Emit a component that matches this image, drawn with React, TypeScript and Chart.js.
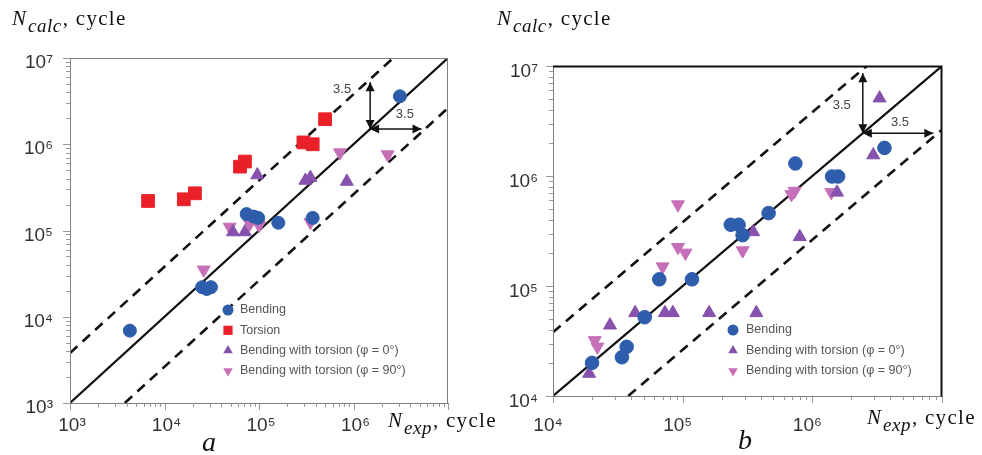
import React, { useEffect, useRef } from 'react';
import { Chart, registerables } from 'chart.js';

Chart.register(...registerables);

// ---------------- Panel a data: [N_exp, N_calc] ----------------
const aBending = [
  [4.3e3, 6.9e3], [2.5e4, 2.2e4], [2.8e4, 2.1e4], [3.1e4, 2.2e4],
  [7.4e4, 1.55e5], [8.8e4, 1.45e5], [9.8e4, 1.4e5], [1.6e5, 1.23e5], [3.7e5, 1.4e5], [3.1e6, 3.6e6],
];
const aTorsion = [
  [6.7e3, 2.2e5], [1.6e4, 2.3e5], [2.1e4, 2.7e5], [6.3e4, 5.5e5], [7.1e4, 6.3e5],
  [2.95e5, 1.05e6], [3.7e5, 1.0e6], [5.0e5, 1.95e6],
];
const aBendTorsion0 = [
  [5.3e4, 9.6e4], [7.1e4, 9.6e4], [9.6e4, 4.4e5], [3.1e5, 3.8e5], [3.5e5, 4.1e5], [8.5e5, 3.7e5],
];
const aBendTorsion90 = [
  [2.6e4, 3.5e4], [4.9e4, 1.1e5], [8.0e4, 1.2e5], [1.0e5, 1.15e5], [3.5e5, 1.25e5], [7.2e5, 8.0e5], [2.3e6, 7.6e5],
];

// ---------------- Panel b data: [N_exp, N_calc] ----------------
const bBending = [
  [2.0e4, 2.0e4], [3.4e4, 2.25e4], [3.7e4, 2.8e4], [5.1e4, 5.2e4], [6.6e4, 1.15e5], [1.18e5, 1.15e5],
  [2.35e5, 3.6e5], [2.7e5, 3.6e5], [2.9e5, 2.9e5], [4.6e5, 4.6e5], [7.4e5, 1.3e6],
  [1.42e6, 9.9e5], [1.58e6, 9.9e5], [3.6e6, 1.8e6],
];
const bBendTorsion0 = [
  [1.9e4, 1.6e4], [2.75e4, 4.4e4], [4.3e4, 5.7e4], [7.3e4, 5.7e4], [8.4e4, 5.7e4], [1.6e5, 5.7e4],
  [3.7e5, 5.7e4], [3.5e5, 3.1e5], [8.0e5, 2.8e5], [1.55e6, 7.1e5], [2.95e6, 1.55e6], [3.3e6, 5.1e6],
];
const bBendTorsion90 = [
  [2.1e4, 3.2e4], [2.2e4, 2.8e4], [7.0e4, 1.5e5], [9.2e4, 5.5e5], [9.2e4, 2.25e5], [1.05e5, 2.0e5],
  [2.9e5, 2.1e5], [6.9e5, 6.8e5], [7.3e5, 7.3e5], [1.4e6, 7.1e5],
];

// ---------------- Axes / reference lines ----------------
const aRange = [1e3, 1e7];
const bRange = [1e4, 1e7];
const aTickExps = [3, 4, 5, 6, 7];
const bTickExps = [4, 5, 6, 7];
const aXLabelExps = [3, 4, 5, 6];
const bXLabelExps = [4, 5, 6];
const bandFactor = 3.8; // dashed scatter band
const arrowFactor = 3.5;
const arrowLabel = '3.5';
const aArrowAnchor = 1.5e6;
const bArrowAnchor = 2.45e6;

const labelBending = 'Bending';
const labelTorsion = 'Torsion';
const labelBT0 = 'Bending with torsion (φ = 0°)';
const labelBT90 = 'Bending with torsion (φ = 90°)';

const BLUE = '#2d5dab';
const RED = '#ea2029';
const PURPLE = '#8652ad';
const PINK = '#c66fb8';

const SUP = '⁰¹²³⁴⁵⁶⁷⁸⁹';
const pow10Label = (e: number) => '10' + String(e).split('').map((d) => SUP[+d]).join('');

const sans = '"Liberation Sans", Arial, sans-serif';
const serif = '"Liberation Serif", "Times New Roman", serif';

type SeriesDef = { label: string; data: number[][]; color: string; style: string; rotation: number; radius: number };

function drawMarker(ctx: CanvasRenderingContext2D, style: string, rotation: number, x: number, y: number, r: number, color: string) {
  ctx.save();
  ctx.fillStyle = color;
  ctx.beginPath();
  if (style === 'circle') {
    ctx.arc(x, y, r, 0, Math.PI * 2);
  } else if (style === 'rect') {
    const s = r * Math.SQRT1_2;
    ctx.rect(x - s, y - s, 2 * s, 2 * s);
  } else {
    const dir = rotation === 180 ? -1 : 1;
    ctx.moveTo(x, y - dir * r);
    ctx.lineTo(x + r * 0.866, y + dir * r * 0.5);
    ctx.lineTo(x - r * 0.866, y + dir * r * 0.5);
    ctx.closePath();
  }
  ctx.fill();
  ctx.restore();
}

function doubleArrow(ctx: CanvasRenderingContext2D, x1: number, y1: number, x2: number, y2: number) {
  const L = 9, W = 4.5;
  const ang = Math.atan2(y2 - y1, x2 - x1);
  ctx.beginPath();
  ctx.moveTo(x1, y1);
  ctx.lineTo(x2, y2);
  ctx.stroke();
  const head = (x: number, y: number, a: number) => {
    ctx.beginPath();
    ctx.moveTo(x, y);
    ctx.lineTo(x - L * Math.cos(a) + W * Math.sin(a), y - L * Math.sin(a) - W * Math.cos(a));
    ctx.lineTo(x - L * Math.cos(a) - W * Math.sin(a), y - L * Math.sin(a) + W * Math.cos(a));
    ctx.closePath();
    ctx.fill();
  };
  head(x2, y2, ang);
  head(x1, y1, ang + Math.PI);
}

const decoPlugin = {
  id: 'deco',
  afterDatasetsDraw(chart: any, _args: any, o: any) {
    const { ctx, chartArea: a } = chart;
    const xs = chart.scales.x;
    const ys = chart.scales.y;
    ctx.save();
    // ticks
    ctx.strokeStyle = o.tickColor;
    ctx.lineWidth = 1;
    const e0 = Math.round(Math.log10(o.range[0]));
    const e1 = Math.round(Math.log10(o.range[1]));
    const vals: { v: number; major: boolean }[] = [];
    for (let e = e0; e < e1; e++) for (let m = 1; m <= 9; m++) vals.push({ v: m * Math.pow(10, e), major: m === 1 });
    vals.push({ v: Math.pow(10, e1), major: true });
    for (const t of vals) {
      const px = Math.round(xs.getPixelForValue(t.v)) + 0.5;
      const len = t.major ? 7 : 4;
      ctx.beginPath();
      ctx.moveTo(px, a.bottom);
      ctx.lineTo(px, a.bottom + len);
      ctx.stroke();
      const py = Math.round(ys.getPixelForValue(t.v)) + 0.5;
      ctx.beginPath();
      ctx.moveTo(a.left - len, py);
      ctx.lineTo(a.left, py);
      ctx.stroke();
    }
    // frame
    ctx.strokeStyle = o.axisColor;
    ctx.lineWidth = 1;
    ctx.beginPath();
    ctx.moveTo(a.left + 0.5, a.top);
    ctx.lineTo(a.left + 0.5, a.bottom + 0.5);
    ctx.lineTo(a.right, a.bottom + 0.5);
    ctx.stroke();
    ctx.strokeStyle = o.boxColor;
    ctx.lineWidth = o.boxWidth;
    ctx.beginPath();
    ctx.moveTo(a.left, a.top + 0.5);
    ctx.lineTo(a.right - 0.5, a.top + 0.5);
    ctx.lineTo(a.right - 0.5, a.bottom + 0.5);
    ctx.stroke();
    // arrows
    const A = o.arrowAnchor;
    const px = xs.getPixelForValue(A);
    const py = ys.getPixelForValue(A);
    const top = ys.getPixelForValue(A * o.arrowFactor);
    const right = xs.getPixelForValue(A * o.arrowFactor);
    ctx.strokeStyle = '#111';
    ctx.fillStyle = '#111';
    ctx.lineWidth = 1.5;
    doubleArrow(ctx, px, py, px, top);
    doubleArrow(ctx, px, py, right, py);
    ctx.fillStyle = '#444';
    ctx.font = `13px ${sans}`;
    ctx.textAlign = 'center';
    ctx.textBaseline = 'middle';
    ctx.fillText(o.arrowLabel, px + o.vLabel[0], (py + top) / 2 + o.vLabel[1]);
    ctx.fillText(o.arrowLabel, (px + right) / 2 + o.hLabel[0], py + o.hLabel[1]);
    // legend
    const lg = o.legend;
    ctx.font = `12.5px ${sans}`;
    ctx.textAlign = 'left';
    ctx.textBaseline = 'middle';
    lg.items.forEach((it: SeriesDef, i: number) => {
      const mx = a.left + lg.dx;
      const my = a.top + lg.dy + i * lg.gap;
      drawMarker(ctx, it.style, it.rotation, mx, my, it.style === 'rect' ? 6.5 : 5.5, it.color);
      ctx.fillStyle = '#555';
      ctx.fillText(it.label, mx + lg.textDx, my);
    });
    ctx.restore();
  },
};

type PanelProps = {
  left: number; width: number; height: number;
  range: number[]; exps: number[]; xLabelExps: number[];
  series: SeriesDef[];
  padding: { left: number; top: number; right: number; bottom: number };
  yAxisWidth: number; xAxisHeight: number;
  xPad: number; yPad: number; xLabelOffset: number; yLabelOffset: number;
  deco: any;
};

function Panel(p: PanelProps) {
  const ref = useRef<HTMLCanvasElement | null>(null);
  useEffect(() => {
    const canvas = ref.current!;
    const [lo, hi] = p.range;
    const lineDs = (data: { x: number; y: number }[], dashed: boolean) => ({
      data, showLine: true, pointRadius: 0, borderColor: '#111', borderWidth: dashed ? 2.6 : 2.2,
      borderDash: dashed ? [10, 7] : [], order: 1, fill: false,
    });
    const tickFont = { family: sans, size: 19 };
    const chart = new Chart(canvas, {
      type: 'scatter',
      data: {
        datasets: [
          ...p.series.map((s) => ({
            label: s.label,
            data: s.data.map(([x, y]) => ({ x, y })),
            pointStyle: s.style,
            pointRotation: s.rotation,
            pointRadius: s.radius,
            backgroundColor: s.color,
            borderColor: s.color,
            borderWidth: 1,
            order: 0,
          })),
          lineDs([{ x: lo, y: lo }, { x: hi, y: hi }], false),
          lineDs([{ x: lo, y: lo * bandFactor }, { x: hi / bandFactor, y: hi }], true),
          lineDs([{ x: lo * bandFactor, y: lo }, { x: hi, y: hi / bandFactor }], true),
        ] as any,
      },
      options: {
        animation: false,
        responsive: false,
        devicePixelRatio: 1,
        events: [],
        layout: { padding: p.padding },
        plugins: { legend: { display: false }, tooltip: { enabled: false }, deco: p.deco } as any,
        scales: {
          x: {
            type: 'logarithmic', min: lo, max: hi, position: 'bottom',
            grid: { display: false, drawTicks: false },
            border: { display: false },
            afterBuildTicks: (sc: any) => { sc.ticks = p.exps.map((e) => ({ value: Math.pow(10, e) })); },
            afterFit: (sc: any) => { sc.height = p.xAxisHeight; },
            ticks: {
              autoSkip: false, maxRotation: 0, minRotation: 0, padding: p.xPad, labelOffset: p.xLabelOffset,
              color: '#333', font: tickFont,
              callback: (v: any) => {
                const e = Math.round(Math.log10(Number(v)));
                return p.xLabelExps.includes(e) ? pow10Label(e) : '';
              },
            },
          },
          y: {
            type: 'logarithmic', min: lo, max: hi, position: 'left',
            grid: { display: false, drawTicks: false },
            border: { display: false },
            afterBuildTicks: (sc: any) => { sc.ticks = p.exps.map((e) => ({ value: Math.pow(10, e) })); },
            afterFit: (sc: any) => { sc.width = p.yAxisWidth; },
            ticks: {
              autoSkip: false, padding: p.yPad, labelOffset: p.yLabelOffset,
              color: '#333', font: tickFont,
              callback: (v: any) => pow10Label(Math.round(Math.log10(Number(v)))),
            },
          },
        } as any,
      },
      plugins: [decoPlugin as any],
    });
    return () => chart.destroy();
  }, []);
  return (
    <div style={{ position: 'absolute', left: p.left, top: 0, width: p.width, height: p.height }}>
      <canvas ref={ref} width={p.width} height={p.height} style={{ display: 'block', width: p.width, height: p.height }} />
    </div>
  );
}

function AxisTitle({ left, baseline, sub }: { left: number; baseline: number; sub: string }) {
  const fs = 21;
  return (
    <div style={{ position: 'absolute', left, top: baseline - 0.8375 * fs, fontFamily: serif, fontSize: fs, lineHeight: 1, whiteSpace: 'nowrap', color: '#111' }}>
      <i>N</i>
      <i style={{ fontSize: 19, verticalAlign: '-7px', marginLeft: 2, letterSpacing: 0.5 }}>{sub}</i>
      <span style={{ marginLeft: 1, letterSpacing: 1.3 }}>, cycle</span>
    </div>
  );
}

function PanelLetter({ left, baseline, text }: { left: number; baseline: number; text: string }) {
  const fs = 28;
  return (
    <div style={{ position: 'absolute', left, top: baseline - 0.8375 * fs, fontFamily: serif, fontStyle: 'italic', fontSize: fs, lineHeight: 1, color: '#111' }}>
      {text}
    </div>
  );
}

export default function App() {
  const aSeries: SeriesDef[] = [
    { label: labelBending, data: aBending, color: BLUE, style: 'circle', rotation: 0, radius: 6.5 },
    { label: labelTorsion, data: aTorsion, color: RED, style: 'rect', rotation: 0, radius: 9 },
    { label: labelBT0, data: aBendTorsion0, color: PURPLE, style: 'triangle', rotation: 0, radius: 7.5 },
    { label: labelBT90, data: aBendTorsion90, color: PINK, style: 'triangle', rotation: 180, radius: 7.5 },
  ];
  const bSeries: SeriesDef[] = [
    { label: labelBending, data: bBending, color: BLUE, style: 'circle', rotation: 0, radius: 6.8 },
    { label: labelBT0, data: bBendTorsion0, color: PURPLE, style: 'triangle', rotation: 0, radius: 7.5 },
    { label: labelBT90, data: bBendTorsion90, color: PINK, style: 'triangle', rotation: 180, radius: 7.5 },
  ];
  return (
    <div style={{ position: 'fixed', left: 0, top: 0, width: 982, height: 455, background: '#fff', overflow: 'hidden' }}>
      <Panel
        left={0} width={470} height={455}
        range={aRange} exps={aTickExps} xLabelExps={aXLabelExps}
        series={aSeries}
        padding={{ left: 10, top: 58, right: 22, bottom: 7 }}
        yAxisWidth={60} xAxisHeight={45}
        xPad={11} yPad={17} xLabelOffset={2} yLabelOffset={5}
        deco={{
          range: aRange, tickColor: '#9a9a9a', axisColor: '#808080', boxColor: '#808080', boxWidth: 1,
          arrowAnchor: aArrowAnchor, arrowFactor, arrowLabel, vLabel: [-28, -16], hLabel: [9, -15],
          legend: { dx: 158, dy: 252, gap: 20.3, textDx: 12, items: aSeries },
        }}
      />
      <Panel
        left={475} width={507} height={455}
        range={bRange} exps={bTickExps} xLabelExps={bXLabelExps}
        series={bSeries}
        padding={{ left: 10, top: 66, right: 40, bottom: 14 }}
        yAxisWidth={68} xAxisHeight={45}
        xPad={18} yPad={15} xLabelOffset={-5} yLabelOffset={6}
        deco={{
          range: bRange, tickColor: '#9a9a9a', axisColor: '#808080', boxColor: '#111', boxWidth: 2,
          arrowAnchor: bArrowAnchor, arrowFactor, arrowLabel, vLabel: [-21, 2], hLabel: [2, -11],
          legend: { dx: 180, dy: 264, gap: 20.5, textDx: 13, items: bSeries },
        }}
      />
      <AxisTitle left={12} baseline={26} sub="calc" />
      <AxisTitle left={497} baseline={26} sub="calc" />
      <AxisTitle left={388} baseline={428} sub="exp" />
      <AxisTitle left={867} baseline={425} sub="exp" />
      <PanelLetter left={202} baseline={451} text="a" />
      <PanelLetter left={738} baseline={449} text="b" />
    </div>
  );
}
